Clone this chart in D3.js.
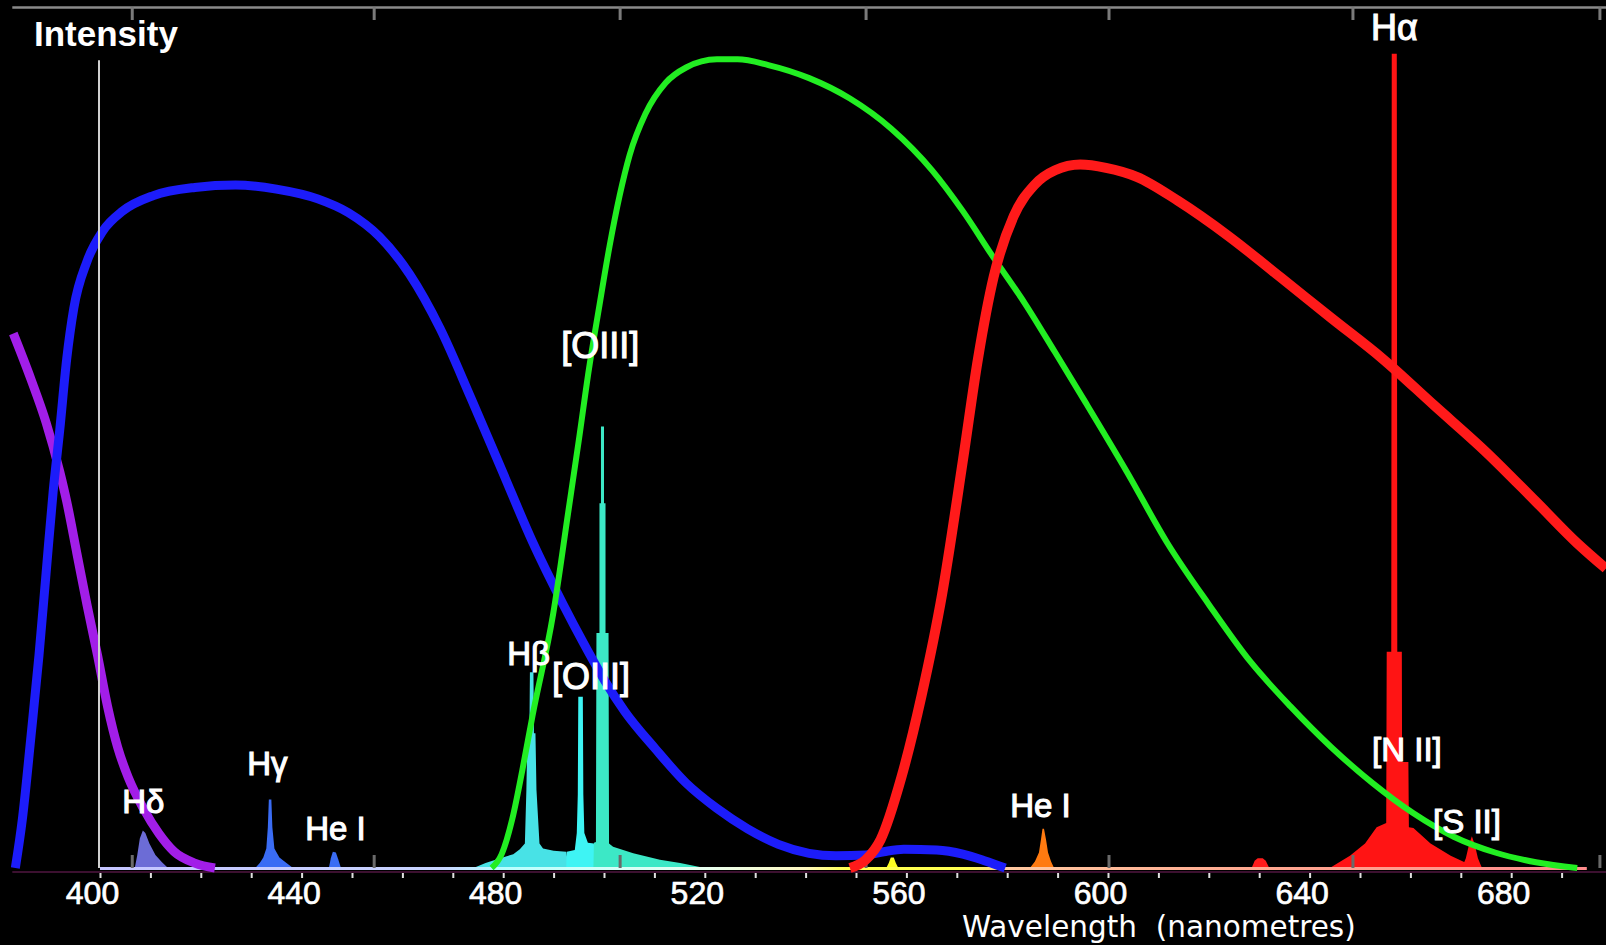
<!DOCTYPE html>
<html>
<head>
<meta charset="utf-8">
<script src="https://cdn.jsdelivr.net/npm/d3@7"></script>
<style>
	html, body { margin: 0; padding: 0; background: #000; }
	svg { display: block; }
	text { font-family: "Liberation Sans", Arial, sans-serif; fill: #fff; }
</style>
</head>
<body>
<div id="chart"></div>
<script>
'use strict';

// filter transmission curves, [wavelength nm, intensity]
var filterU = [[382.8,65.5],[386.3,59.9],[389.3,54.6],[392.0,48.6],[393.4,44.9],[395.4,38.6],[397.4,32.3],[399.5,26.1],[401.5,19.8],[403.5,14.8],[405.6,11.1],[408.6,7.3],[411.7,4.2],[414.7,2.0],[418.8,0.6],[422.8,0]];
var filterB = [[383.2,0],[384.6,6.0],[386.3,16.1],[387.9,26.1],[389.3,36.1],[390.7,46.1],[392.0,53.6],[393.4,62.4],[394.8,68.6],[397.4,74.3],[400.5,78.0],[404.5,80.5],[410.6,82.4],[418.8,83.4],[426.9,83.7],[435.0,83.2],[443.2,82.0],[449.3,80.3],[455.4,77.4],[461.4,72.8],[467.5,66.1],[473.6,57.6],[479.7,48.8],[485.8,40.0],[491.9,32.3],[496.0,27.5],[500.1,23.0],[504.1,19.2],[510.2,14.6],[516.3,10.4],[522.4,7.3],[528.5,4.8],[534.6,2.9],[540.7,1.8],[546.0,1.5],[552.0,1.6],[555.5,2.0],[559.5,2.3],[566.0,2.2],[571.2,1.7],[575.5,0.9],[579.6,0]];
var filterV = [[477.7,0],[479.7,1.7],[481.8,6.0],[483.8,12.0],[485.8,18.6],[489.9,31.1],[492.9,43.6],[495.0,52.4],[497.0,61.1],[499.0,68.6],[501.1,76.2],[503.1,82.4],[505.1,87.4],[508.2,92.4],[512.2,96.2],[516.3,98.1],[522.4,99.1],[526.5,99.1],[532.6,98.4],[540.7,96.8],[548.8,94.3],[557.0,90.6],[565.1,85.5],[571.2,80.5],[577.3,74.8],[583.4,69.3],[589.5,63.2],[595.6,57.0],[603.7,48.6],[611.8,39.8],[620.0,32.3],[628.1,25.4],[636.2,19.8],[644.3,14.8],[652.5,10.4],[660.6,6.7],[668.7,3.8],[676.8,1.9],[684.9,0.7],[693.1,0]];
var filterR = [[548.8,0],[551.9,1.0],[554.9,3.5],[559.0,11.1],[563.0,21.1],[567.1,33.6],[571.2,49.9],[574.2,62.4],[577.3,72.4],[581.3,79.9],[585.4,83.7],[589.5,85.5],[594.5,86.2],[599.6,85.8],[605.7,84.7],[613.8,81.8],[624.0,77.4],[634.2,72.4],[644.3,67.4],[654.5,62.4],[664.7,56.7],[674.8,51.1],[684.9,44.9],[693.1,39.8],[698.8,36.7]];

// emission lines, [wavelength nm, intensity]
var lineHdelta = [[406.9,0],[407.4,1.6],[407.9,3.6],[408.5,4.6],[409.0,4.3],[409.8,3.0],[411.0,1.6],[412.3,0.7],[413.5,0]];
var lineHgamma = [[430.8,0],[431.7,0.6],[432.4,1.3],[433.0,2.4],[433.3,5.0],[433.5,8.4],[434.0,8.4],[434.2,5.0],[434.6,2.4],[435.6,1.3],[437.0,0.6],[438.3,0]];
var lineHeI447 = [[445.4,0],[445.8,1.2],[446.2,2.0],[446.8,1.9],[447.3,1.0],[447.8,0]];
var lineHbeta = [[474.1,0],[476.5,0.6],[479.4,1.2],[482.0,1.7],[483.3,2.3],[484.3,3.0],[484.6,9.6],[484.8,16.5],[485.2,16.5],[485.3,24.0],[486.0,24.0],[486.1,16.5],[486.4,16.5],[486.6,9.6],[487.2,3.0],[487.9,2.4],[490.0,2.1],[492.5,2.0],[493.0,0]];
var lineOIII496 = [[492.5,0],[492.6,2.0],[494.2,2.2],[494.6,4.3],[494.8,9.0],[494.9,21.0],[495.8,21.0],[495.9,9.0],[496.1,4.3],[496.8,3.1],[498.0,3.0],[498.2,0]];
var lineOIII501 = [[497.9,0],[498.0,3.1],[498.4,3.2],[498.5,28.8],[499.1,28.8],[499.1,44.7],[499.4,44.7],[499.4,54.1],[500.0,54.1],[500.0,44.7],[500.3,44.7],[500.3,28.8],[500.9,28.8],[501.0,3.0],[501.8,2.6],[505.8,1.8],[511.1,1.0],[515.1,0.6],[520.0,0]];
var lineOI558 = [[556.0,0],[556.5,0.6],[556.9,1.3],[557.5,1.3],[557.9,0.6],[558.4,0]];
var lineHeI588 = [[584.5,0],[585.5,0.8],[586.3,1.9],[586.7,3.5],[587.0,4.8],[587.3,4.8],[587.7,3.5],[588.1,1.9],[588.7,0.8],[589.3,0]];
var lineOI630 = [[628.5,0],[629.1,0.9],[629.7,1.2],[630.7,1.2],[631.3,0.9],[632.0,0]];
var lineHalpha = [[644.0,0],[648.0,1.5],[651.0,3.0],[653.3,5.0],[655.2,5.5],[655.3,26.5],[656.2,26.5],[656.3,99.8],[657.3,99.8],[657.4,26.5],[658.3,26.5],[658.35,13.0],[659.6,13.0],[659.7,5.0],[660.6,4.9],[664.0,3.0],[668.0,1.5],[671.5,0.5],[674.5,0]];
var lineSII = [[670.2,0],[671.0,1.2],[671.6,2.8],[672.2,3.9],[672.8,2.8],[673.4,1.2],[674.2,0]];

// line labels and where they sit, [wavelength nm, intensity]
var labelNames = ['H\u03b1', '[OIII]', 'H\u03b2', '[OIII]', 'H\u03b4', 'H\u03b3', 'He I', 'He I', '[N II]', '[S II]'];
var labelWl = [652.2, 491.5, 480.8, 489.7, 404.4, 429.2, 440.7, 580.6, 652.4, 664.5];
var labelLevel = [101.5, 62.5, 24.9, 21.9, 6.7, 11.4, 3.4, 6.25, 13.1, 4.3];

// axis ticks
var minorTicks = d3.range(400, 700, 10);
var majorTicks = [400, 440, 480, 520, 560, 600, 640, 680];
var frameTicks = [406.4, 454.4, 503.2, 552.0, 600.2, 648.6, 697.6];

// spectrum strip colours along the base
var stripStops = [[400,'#c4c4ff'],[468,'#c8d4ff'],[480,'#b8ffff'],[520,'#e8fff0'],[540,'#fff8c0'],[548,'#ffff50'],[572,'#ffff50'],[580,'#ffc8a0'],[630,'#ffa890'],[690,'#ff8c8c'],[695,'#ff8c8c']];

var W = 1606, H = 945;

var svg = d3.select('#chart').append('svg')
	.attr('width', W)
	.attr('height', H)
	.style('background', '#000');

var x = d3.scaleLinear().domain([400, 700]).range([100, 1612]);
var y = d3.scaleLinear().domain([0, 100]).range([868, 52]);

var defs = svg.append('defs');
var grad = defs.append('linearGradient')
	.attr('id', 'strip')
	.attr('gradientUnits', 'userSpaceOnUse')
	.attr('x1', x(400)).attr('x2', x(695))
	.attr('y1', 0).attr('y2', 0);
grad.selectAll('stop')
	.data(stripStops)
	.enter()
	.append('stop')
	.attr('offset', function(d){ return (d[0] - 400) / 295; })
	.attr('stop-color', function(d){ return d[1]; });

// dark line under the spectrum strip
svg.append('line')
	.attr('x1', x(382.6)).attr('x2', x(699))
	.attr('y1', y(0) + 4).attr('y2', y(0) + 4)
	.attr('stroke', '#3c1030')
	.attr('stroke-width', 2);

// emission lines
var area = d3.area()
	.x(function(d){ return x(d[0]); })
	.y0(y(0))
	.y1(function(d){ return y(d[1]); })
	.curve(d3.curveLinear);

var emission = [
	{data: lineHbeta, color: '#48e2e6'},
	{data: lineOIII496, color: '#3ef4f4'},
	{data: lineOIII501, color: '#3ce8c6'},
	{data: lineHdelta, color: '#6c6cd6'},
	{data: lineHgamma, color: '#3a6cf4'},
	{data: lineHeI447, color: '#3a6cf4'},
	{data: lineOI558, color: '#ffff20'},
	{data: lineHeI588, color: '#ff7a10'},
	{data: lineOI630, color: '#ff1c1c'},
	{data: lineHalpha, color: '#ff1414'},
	{data: lineSII, color: '#ff1414'}
];

svg.selectAll('path.emission')
	.data(emission)
	.enter()
	.append('path')
	.attr('class', 'emission')
	.attr('d', function(d){ return area(d.data); })
	.attr('fill', function(d){ return d.color; });

// spectrum strip
svg.append('rect')
	.attr('x', x(400))
	.attr('y', y(0) - 1)
	.attr('width', x(695) - x(400))
	.attr('height', 3)
	.attr('fill', 'url(#strip)');

// small grey marks on the base
svg.selectAll('line.basemark')
	.data(frameTicks)
	.enter()
	.append('line')
	.attr('class', 'basemark')
	.attr('x1', function(d){ return x(d); })
	.attr('x2', function(d){ return x(d); })
	.attr('y1', y(0) - 13)
	.attr('y2', y(0))
	.attr('stroke', '#6a6a6a')
	.attr('stroke-width', 3);

// filter curves
var line = d3.line()
	.x(function(d){ return x(d[0]); })
	.y(function(d){ return y(d[1]); })
	.curve(d3.curveMonotoneX);

var filters = [
	{data: filterU, color: '#a21ee8', width: 9},
	{data: filterB, color: '#1c1cfa', width: 9},
	{data: filterV, color: '#22ee22', width: 6},
	{data: filterR, color: '#ff1a1a', width: 10}
];

svg.selectAll('path.filter')
	.data(filters)
	.enter()
	.append('path')
	.attr('class', 'filter')
	.attr('d', function(d){ return line(d.data); })
	.attr('fill', 'none')
	.attr('stroke', function(d){ return d.color; })
	.attr('stroke-width', function(d){ return d.width; })
	.attr('stroke-linejoin', 'round');

// vertical intensity axis
svg.append('line')
	.attr('x1', x(400) - 1).attr('x2', x(400) - 1)
	.attr('y1', y(99)).attr('y2', y(0))
	.attr('stroke', '#d0d0d0')
	.attr('stroke-width', 2);

// top frame line and its marks
svg.append('line')
	.attr('x1', x(382.6)).attr('x2', W)
	.attr('y1', 7.5).attr('y2', 7.5)
	.attr('stroke', '#8a8a8a')
	.attr('stroke-width', 2.5);

svg.selectAll('line.topmark')
	.data(frameTicks)
	.enter()
	.append('line')
	.attr('class', 'topmark')
	.attr('x1', function(d){ return x(d); })
	.attr('x2', function(d){ return x(d); })
	.attr('y1', 7)
	.attr('y2', 20)
	.attr('stroke', '#7a7a7a')
	.attr('stroke-width', 3);

// wavelength axis
var axis = svg.append('g')
	.attr('transform', 'translate(0,' + (y(0) + 5) + ')')
	.call(d3.axisBottom(x)
		.tickValues(minorTicks)
		.tickSize(5)
		.tickFormat(function(d){ return majorTicks.indexOf(d) >= 0 ? d : ''; }));

axis.select('.domain').remove();
axis.selectAll('.tick line')
	.attr('stroke', '#e0e0e0')
	.attr('stroke-width', 2);
axis.selectAll('.tick text')
	.attr('y', 31)
	.attr('dy', 0)
	.attr('dx', -8)
	.style('font-family', '"Liberation Sans", Arial, sans-serif')
	.style('font-size', '32px')
	.attr('fill', '#fff')
	.attr('stroke', '#fff')
	.attr('stroke-width', 0.7);

// titles
svg.append('text')
	.attr('x', 34)
	.attr('y', 46)
	.style('font-size', '35px')
	.style('font-weight', 'bold')
	.text('Intensity');

svg.append('text')
	.attr('x', 962)
	.attr('y', 937)
	.style('font-family', '"DejaVu Sans", sans-serif')
	.style('font-size', '29.5px')
	.style('white-space', 'pre')
	.text('Wavelength  (nanometres)');

// line labels
svg.selectAll('text.label')
	.data(labelNames)
	.enter()
	.append('text')
	.attr('class', 'label')
	.attr('x', function(d, i){ return x(labelWl[i]); })
	.attr('y', function(d, i){ return y(labelLevel[i]); })
	.style('font-size', function(d, i){ return (i < 2 || i === 3) ? '36px' : '33px'; })
	.attr('stroke', '#fff')
	.attr('stroke-width', 1.1)
	.text(function(d){ return d; });
</script>
</body>
</html>
